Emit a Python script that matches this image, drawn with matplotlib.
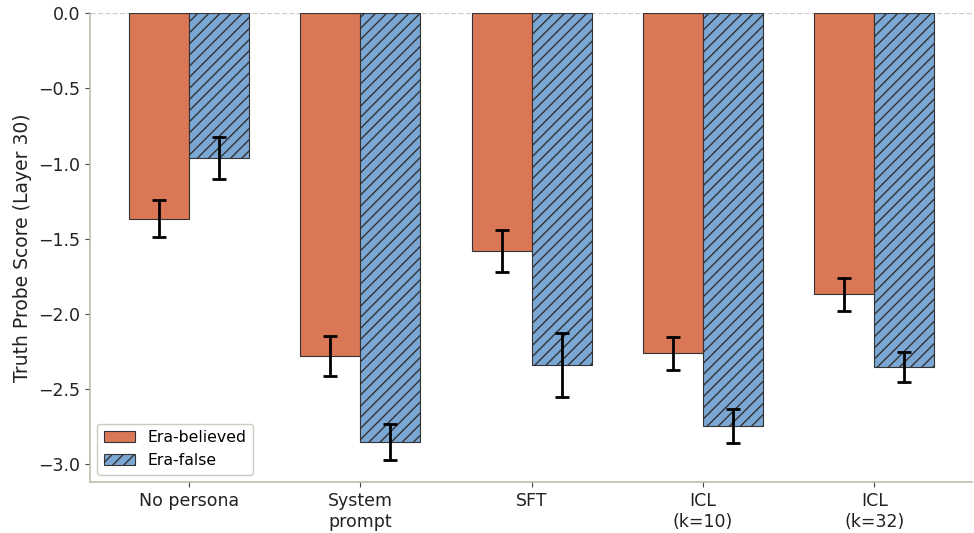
import numpy as np
import matplotlib
matplotlib.use("Agg")
import matplotlib.pyplot as plt

categories = ["No persona", "System\nprompt", "SFT", "ICL\n(k=10)", "ICL\n(k=32)"]
believed = [-1.365, -2.28, -1.58, -2.26, -1.87]
believed_err = [0.12, 0.135, 0.14, 0.11, 0.107]
false_vals = [-0.965, -2.85, -2.34, -2.745, -2.35]
false_err = [0.14, 0.12, 0.215, 0.11, 0.10]

fig, ax = plt.subplots(figsize=(9.74, 5.33), dpi=100)

x = np.arange(len(categories))
w = 0.35
err_kw = dict(ecolor="black", elinewidth=2, capsize=5, capthick=2)

ax.bar(x - w / 2, believed, w, yerr=believed_err, color="#d97757",
       edgecolor="#333333", linewidth=0.8, label="Era-believed", error_kw=err_kw)
ax.bar(x + w / 2, false_vals, w, yerr=false_err, color="#7ba7d4",
       edgecolor="#333333", linewidth=0.8, hatch="///", label="Era-false", error_kw=err_kw)

ax.axhline(0, color="#cccccc", linestyle="--", linewidth=1, zorder=0)

ax.set_xticks(x)
ax.set_xticklabels(categories, fontsize=12.5)
ax.tick_params(axis="y", labelsize=12.5)
ax.tick_params(color="#444444", labelcolor="#222222")
ax.set_ylabel("Truth Probe Score (Layer 30)", fontsize=13.5, color="#222222")
ax.set_xlim(-0.58, 4.57)
ax.set_ylim(-3.12, 0)

for side in ("top", "right"):
    ax.spines[side].set_visible(False)
for side in ("left", "bottom"):
    ax.spines[side].set_color("#bdbdb0")
    ax.spines[side].set_linewidth(1.2)

leg = ax.legend(loc="lower left", fontsize=11.3, frameon=True, fancybox=True)
leg.get_frame().set_edgecolor("#bdbdb0")

fig.subplots_adjust(left=0.092, right=0.998, top=0.975, bottom=0.095)
fig.savefig("out.png", dpi=100)
